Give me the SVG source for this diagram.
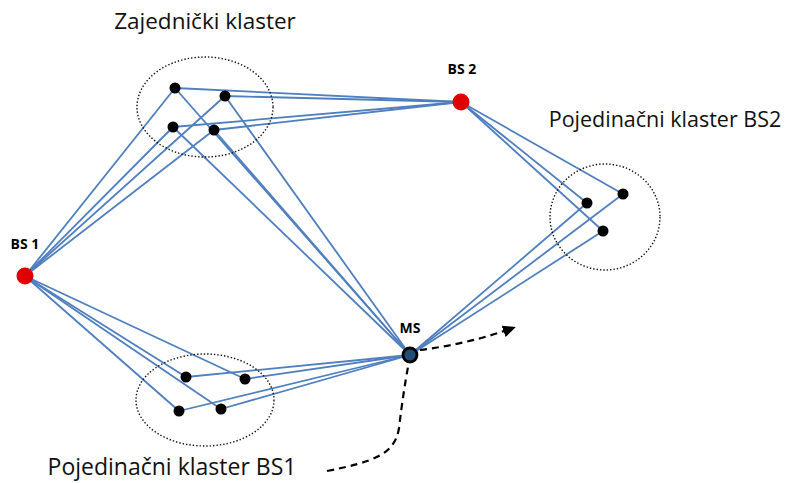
<svg xmlns="http://www.w3.org/2000/svg" width="787" height="483" viewBox="0 0 787 483">
<defs>
<style>
.ln{stroke:#4f7fbf;stroke-width:1.8;fill:none}
.cl{fill:none;stroke:#111;stroke-width:1.4;stroke-dasharray:1.4 2}
.nd{fill:#000}
.bs{fill:#e00000}
.lbl{font-family:"Open Sans","Liberation Sans",sans-serif;fill:#111}
.bl{font-family:"Open Sans","Liberation Sans",sans-serif;font-weight:bold;font-size:14px;fill:#000;text-anchor:middle}
.dash{fill:none;stroke:#000;stroke-width:2.2;stroke-dasharray:7 5}
</style>
<marker id="ah" markerWidth="14" markerHeight="12" refX="10" refY="6" orient="auto" markerUnits="userSpaceOnUse">
<path d="M0,0 L13,6 L0,12 Z" fill="#000"/>
</marker>
</defs>
<rect width="787" height="483" fill="#fff"/>
<g id="connectors">
<line class="ln" x1="25" y1="276" x2="175" y2="88"/>
<line class="ln" x1="25" y1="276" x2="225" y2="96"/>
<line class="ln" x1="25" y1="276" x2="173" y2="127"/>
<line class="ln" x1="25" y1="276" x2="214" y2="130"/>
<line class="ln" x1="25" y1="276" x2="186" y2="377"/>
<line class="ln" x1="25" y1="276" x2="245" y2="379"/>
<line class="ln" x1="25" y1="276" x2="179" y2="411"/>
<line class="ln" x1="25" y1="276" x2="221" y2="409"/>
<line class="ln" x1="461" y1="102" x2="175" y2="88"/>
<line class="ln" x1="461" y1="102" x2="225" y2="96"/>
<line class="ln" x1="461" y1="102" x2="173" y2="127"/>
<line class="ln" x1="461" y1="102" x2="214" y2="130"/>
<line class="ln" x1="461" y1="102" x2="623" y2="194"/>
<line class="ln" x1="461" y1="102" x2="587" y2="203"/>
<line class="ln" x1="461" y1="102" x2="603" y2="231"/>
<line class="ln" x1="410" y1="355" x2="175" y2="88"/>
<line class="ln" x1="410" y1="355" x2="225" y2="96"/>
<line class="ln" x1="410" y1="355" x2="173" y2="127"/>
<line class="ln" x1="410" y1="355" x2="214" y2="130"/>
<line class="ln" x1="410" y1="355" x2="186" y2="377"/>
<line class="ln" x1="410" y1="355" x2="245" y2="379"/>
<line class="ln" x1="410" y1="355" x2="179" y2="411"/>
<line class="ln" x1="410" y1="355" x2="221" y2="409"/>
<line class="ln" x1="410" y1="355" x2="623" y2="194"/>
<line class="ln" x1="410" y1="355" x2="587" y2="203"/>
<line class="ln" x1="410" y1="355" x2="603" y2="231"/>
<path class="dash" d="M420 350 Q468 344 513 328" marker-end="url(#ah)"/>
<path class="dash" d="M327 471 C372 462 395 455 399 428 C402 403 405 383 408 367"/>
</g>
<g id="cluster-common">
<ellipse class="cl" cx="205" cy="107" rx="68" ry="50"/>
<circle class="nd" cx="175" cy="88" r="5.5"/>
<circle class="nd" cx="225" cy="96" r="5.5"/>
<circle class="nd" cx="173" cy="127" r="5.5"/>
<circle class="nd" cx="214" cy="130" r="5.5"/>
<text class="lbl" x="205" y="29" font-size="22.5" text-anchor="middle">Zajednički klaster</text>
</g>
<g id="cluster-bs2">
<ellipse class="cl" cx="605" cy="217" rx="55" ry="53"/>
<circle class="nd" cx="623" cy="194" r="5.5"/>
<circle class="nd" cx="587" cy="203" r="5.5"/>
<circle class="nd" cx="603" cy="231" r="5.5"/>
<text class="lbl" x="665" y="127" font-size="21.5" text-anchor="middle">Pojedinačni klaster BS2</text>
</g>
<g id="cluster-bs1">
<ellipse class="cl" cx="205" cy="400" rx="69" ry="46"/>
<circle class="nd" cx="186" cy="377" r="5.5"/>
<circle class="nd" cx="245" cy="379" r="5.5"/>
<circle class="nd" cx="179" cy="411" r="5.5"/>
<circle class="nd" cx="221" cy="409" r="5.5"/>
<text class="lbl" x="172" y="475" font-size="23" text-anchor="middle">Pojedinačni klaster BS1</text>
</g>
<g id="bs1">
<circle class="bs" cx="25" cy="276" r="8.5"/>
<text class="bl" x="25" y="249">BS 1</text>
</g>
<g id="bs2">
<circle class="bs" cx="461" cy="102" r="8.5"/>
<text class="bl" x="462" y="74">BS 2</text>
</g>
<g id="ms">
<circle cx="410" cy="355" r="7" fill="#1f4e79" stroke="#000" stroke-width="2.8"/>
<text class="bl" x="410" y="333">MS</text>
</g>
</svg>
